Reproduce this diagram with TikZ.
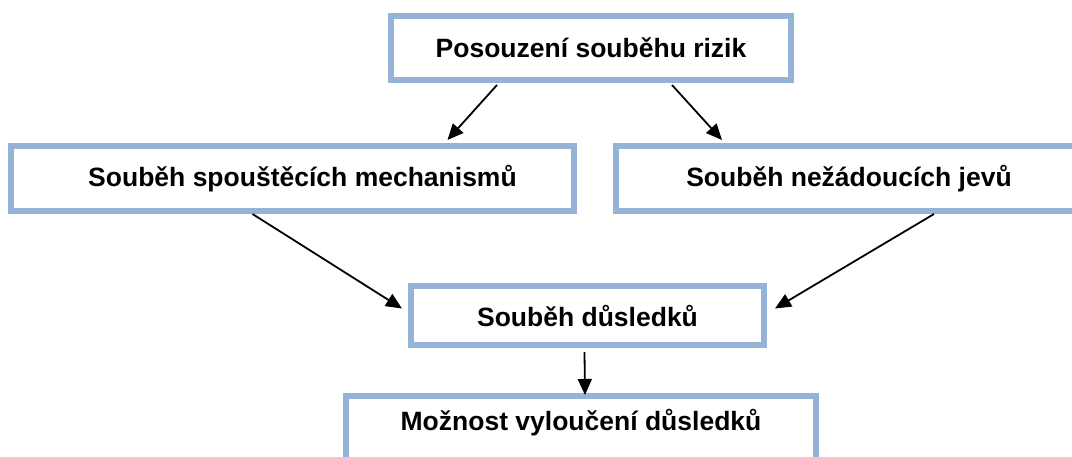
\documentclass[tikz,border=0pt]{standalone}
\usepackage{fontspec}
\setmainfont{Liberation Sans}
\usetikzlibrary{arrows.meta}
\definecolor{ramec}{RGB}{149,179,215}

\begin{document}
\begin{tikzpicture}[x=1pt, y=-1pt,
        blok/.style={shape=rectangle, draw=ramec, line width=6pt, inner sep=0pt,
            font=\fontsize{26.5}{31}\selectfont\bfseries},
        sipka/.style={line width=1.8pt, -{Triangle[length=16pt, width=14pt]}}]
        \useasboundingbox (0,0) rectangle (1072,456);
        \clip (0,0) rectangle (1072,456);

        \node[blok, minimum width=400pt, minimum height=64pt] (B1) at (591, 48) {Posouzení souběhu rizik};
        \node[blok, minimum width=563pt, minimum height=65pt] (B2) at (292.5, 178.5) {\hspace*{20pt}Souběh spouštěcích mechanismů};
        \node[blok, minimum width=466pt, minimum height=65pt] (B3) at (849, 178.5) {Souběh nežádoucích jevů};
        \node[blok, minimum width=353pt, minimum height=59pt] (B4) at (587.5, 315.5) {Souběh důsledků};
        \node[blok, minimum width=470pt, minimum height=64pt, text depth=16pt] (B5) at (581, 428) {Možnost vyloučení důsledků};

        \draw[sipka] ([xshift=-94pt, yshift=-2pt]B1.south) to ([xshift=155pt, yshift=3pt]B2.north);
        \draw[sipka] ([xshift=81pt, yshift=-2pt]B1.south) to ([xshift=-127pt, yshift=3pt]B3.north);
        \draw[sipka] ([xshift=-40pt]B2.south) to ([xshift=-6pt, yshift=7pt]B4.west);
        \draw[sipka] ([xshift=85pt]B3.south) to ([xshift=8pt, yshift=7pt]B4.east);
        \draw[sipka] ([xshift=-3pt, yshift=-4pt]B4.south) to ([xshift=4pt, yshift=-2pt]B5.north);
    \end{tikzpicture}
\end{document}
